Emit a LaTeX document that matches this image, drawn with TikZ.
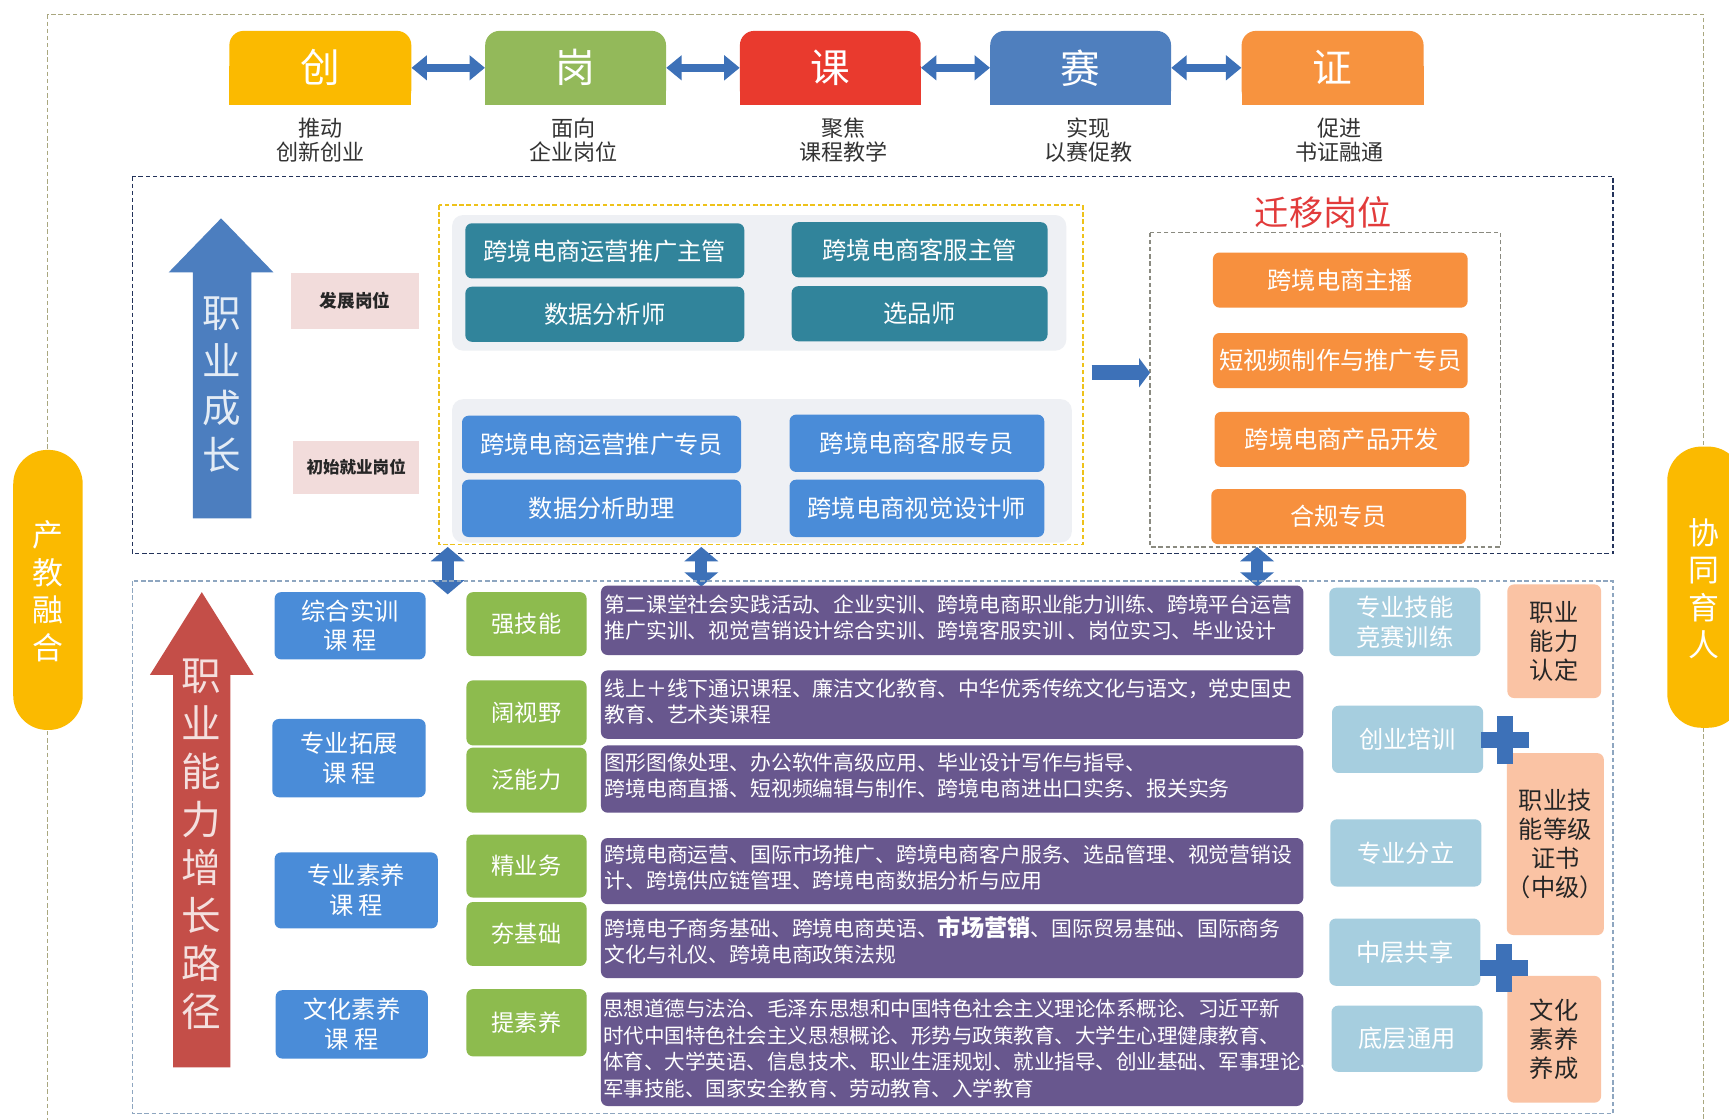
\documentclass[tikz,border=0pt]{standalone}
\usepackage{fontspec}
\setmainfont{Noto Sans CJK SC}
\usetikzlibrary{arrows.meta}
\definecolor{cyel}{HTML}{FBBA00}
\definecolor{cgrn}{HTML}{93B95A}
\definecolor{cred}{HTML}{E93A2E}
\definecolor{cblu}{HTML}{4F7FBE}
\definecolor{corg}{HTML}{F7933F}
\definecolor{cteal}{HTML}{31849B}
\definecolor{cbbox}{HTML}{4A8CD8}
\definecolor{cobox}{HTML}{F7903E}
\definecolor{cgbox}{HTML}{8DBB4E}
\definecolor{cpur}{HTML}{68578E}
\definecolor{clb}{HTML}{A6CEDF}
\definecolor{csal}{HTML}{FAC3A4}
\definecolor{cpink}{HTML}{F2DCDB}
\definecolor{carrr}{HTML}{C44E48}
\definecolor{carrb}{HTML}{4C7EBF}
\definecolor{cdarr}{HTML}{3D71B8}
\definecolor{cpanel}{HTML}{EEF0F4}
\definecolor{cframe}{HTML}{A9A77F}
\definecolor{cnavy}{HTML}{22325A}
\definecolor{clow}{HTML}{8EA6C0}
\definecolor{cydash}{HTML}{EEC21A}
\definecolor{cgdash}{HTML}{8A8A80}
\definecolor{cmig}{HTML}{E23B3B}
\newcommand\fsz[2]{\fontsize{#1pt}{#2pt}\selectfont}
\begin{document}
\begin{tikzpicture}[x=1pt,y=-1pt,
  box/.style={rounded corners=6pt, inner sep=0pt, align=center},
  toplabel/.style={inner sep=0pt, text=white, font=\fsz{36}{40}},
  caption/.style={align=center, text=black!80, font=\fsz{20}{22}},
  tealbox/.style={box, fill=cteal, text=white, font=\fsz{22}{26}, minimum height=50pt},
  bluebox/.style={box, fill=cbbox, text=white, font=\fsz{22}{26}, minimum height=52pt},
  orgbox/.style={box, fill=cobox, text=white, font=\fsz{22}{26}, minimum width=231pt, minimum height=50pt},
  pinkbox/.style={inner sep=0pt, fill=cpink, text=black!85, font=\fsz{16}{18}\bfseries},
  coursebox/.style={box, fill=cbbox, text=white, font=\fsz{22}{27}},
  grnbox/.style={box, fill=cgbox, text=white, font=\fsz{21}{25}, minimum width=109pt},
  purbox/.style={box, fill=cpur, minimum width=637pt},
  purtext/.style={inner sep=0pt, anchor=west, align=left, text=white, font=\fsz{18.9}{23.5}},
  lbbox/.style={box, fill=clb, text=white, font=\fsz{22}{27}, minimum width=137pt},
  salbox/.style={box, fill=csal, text=black!85, font=\fsz{22}{26.5}, minimum width=85pt},
  pill/.style={fill=cyel, rounded corners=31pt},
  pilltext/.style={inner sep=0pt, align=center, text=white, font=\fsz{28}{34}},
  dashline/.style={line width=1.4pt, dash pattern=on 4pt off 2.5pt},
  dblarrow/.style={cdarr, line width=7pt, {Triangle[width=22pt,length=14pt]}-{Triangle[width=22pt,length=14pt]}},
  vdblarrow/.style={cdarr, line width=11pt, {Triangle[width=30pt,length=13pt]}-{Triangle[width=30pt,length=13pt]}},
  bigtext/.style={inner sep=0pt, align=center, font=\fsz{35}{43}},
  plusbar/.style={fill=cdarr}
]
\fill[white] (0,0) rectangle (1568,1015);
\useasboundingbox (0,0) rectangle (1568,1015);
\clip (0,0) rectangle (1568,1015);

% outer frame
\draw[cframe, dashline] (43,13) rectangle (1545,1040);

% ---- top row ----
\foreach \xa/\xb/\col in {208/373/cyel, 440/604/cgrn, 671/835/cred, 898/1062/cblu, 1126/1291/corg}{
  \fill[\col, rounded corners=13pt] (\xa,28) rectangle (\xb,95);
  \fill[\col] (\xa,60) rectangle (\xb,95);
}
\node[toplabel] (chuang) at (290.5,61.5) [minimum width=165pt, minimum height=67pt] {创};
\node[toplabel] (gang) at (522,61.5) [minimum width=164pt, minimum height=67pt] {岗};
\node[toplabel] (ke) at (753,61.5) [minimum width=164pt, minimum height=67pt] {课};
\node[toplabel] (sai) at (980,61.5) [minimum width=164pt, minimum height=67pt] {赛};
\node[toplabel] (zheng) at (1208.5,61.5) [minimum width=165pt, minimum height=67pt] {证};
\draw[dblarrow] (chuang.east) -- (gang.west);
\draw[dblarrow] (gang.east) -- (ke.west);
\draw[dblarrow] (ke.east) -- (sai.west);
\draw[dblarrow] (sai.east) -- (zheng.west);
\node[caption] (cap1) at (291,127) {推动\\创新创业};
\node[caption] (cap2) at (520,127) {面向\\企业岗位};
\node[caption] (cap3) at (765,127) {聚焦\\课程教学};
\node[caption] (cap4) at (987,127) {实现\\以赛促教};
\node[caption] (cap5) at (1215,127) {促进\\书证融通};

% ---- middle section ----
\draw[cnavy, dashline] (120,160) rectangle (1463,502);
\fill[carrb] (175,470) -- (175,247) -- (153,247) -- (200.5,198) -- (248,247) -- (228,247) -- (228,470) -- cycle;
\node[bigtext, text=white!85!carrb] (zycz) at (201.5,349) {职\\业\\成\\长};
\node[pinkbox, minimum width=116pt, minimum height=50pt] (fz) at (322,273) {发展岗位};
\node[pinkbox, minimum width=114pt, minimum height=48pt, font=\fsz{15}{17}\bfseries] (cs) at (323,424) {初始就业岗位};

\draw[cydash, dashline, line width=1.2pt] (398,186) rectangle (982,494);
\fill[cpanel, rounded corners=10pt] (410,195) rectangle (967,318);
\fill[cpanel, rounded corners=10pt] (410,362) rectangle (972,492);
\node[tealbox, minimum width=253pt] (t1) at (548.5,227.5) {跨境电商运营推广主管};
\node[tealbox, minimum width=232pt] (t2) at (834,226.5) {跨境电商客服主管};
\node[tealbox, minimum width=253pt] (t3) at (548.5,285) {数据分析师};
\node[tealbox, minimum width=232pt] (t4) at (834,284.5) {选品师};
\node[bluebox, minimum width=253pt] (b1) at (545.5,403) {跨境电商运营推广专员};
\node[bluebox, minimum width=231pt] (b2) at (831.5,402) {跨境电商客服专员};
\node[bluebox, minimum width=253pt] (b3) at (545.5,461) {数据分析助理};
\node[bluebox, minimum width=231pt] (b4) at (831.5,461) {跨境电商视觉设计师};

\node[inner sep=0pt, text=cmig, font=\fsz{31}{34}] (qy) at (1200,193) {迁移岗位};
\draw[cgdash, dashline, line width=1.2pt] (1043,211) rectangle (1361,496);
\node[orgbox] (o1) at (1215.5,254) {跨境电商主播};
\node[orgbox] (o2) at (1215.5,327) {短视频制作与推广专员};
\node[orgbox] (o3) at (1217,398.5) {跨境电商产品开发};
\node[orgbox] (o4) at (1214,468.5) {合规专员};
\coordinate (ra1) at (990,338);
\coordinate (ra2) at (1043,338);
\draw[cdarr, line width=14pt, -{Triangle[width=26pt,length=10pt]}] (ra1) -- (ra2);

% vertical double arrows
\coordinate (v1a) at (406,496); \coordinate (v1b) at (406,539);
\coordinate (v2a) at (636,496); \coordinate (v2b) at (636,532);
\coordinate (v3a) at (1140,496); \coordinate (v3b) at (1140,532);
\draw[vdblarrow] (v1a) -- (v1b);
\draw[vdblarrow] (v2a) -- (v2b);
\draw[vdblarrow] (v3a) -- (v3b);

% ---- lower section ----
\draw[clow, dashline] (120,527) rectangle (1463,1010);
\fill[carrr] (157,968) -- (157,612) -- (136,612) -- (183,537) -- (230,612) -- (209,612) -- (209,968) -- cycle;
\node[bigtext, text=white!82!carrr, font=\fsz{36}{43.5}] (zynl) at (183,766) {职\\业\\能\\力\\增\\长\\路\\径};

\node[coursebox, minimum width=137pt, minimum height=61pt] (k1) at (317.5,567.5) {综合实训\\课\ 程};
\node[coursebox, minimum width=139pt, minimum height=71pt] (k2) at (316.5,687.5) {专业拓展\\课\ 程};
\node[coursebox, minimum width=148pt, minimum height=69pt] (k3) at (323,807.5) {专业素养\\课\ 程};
\node[coursebox, minimum width=138pt, minimum height=62pt] (k4) at (319,929) {文化素养\\课\ 程};

\node[grnbox, minimum height=58pt] (g1) at (477.5,566) {强技能};
\node[grnbox, minimum height=59pt] (g2) at (477.5,646.5) {阔视野};
\node[grnbox, minimum height=59pt] (g3) at (477.5,707.5) {泛能力};
\node[grnbox, minimum height=57pt] (g4) at (477.5,785.5) {精业务};
\node[grnbox, minimum height=58pt] (g5) at (477.5,847) {夯基础};
\node[grnbox, minimum height=61pt] (g6) at (477.5,927.5) {提素养};

\node[purbox, minimum height=63pt] (p1) at (863.5,562.5) {};
\node[purbox, minimum height=62pt] (p2) at (863.5,639) {};
\node[purbox, minimum height=61pt] (p3) at (863.5,706.5) {};
\node[purbox, minimum height=60pt] (p4) at (863.5,790) {};
\node[purbox, minimum height=61pt] (p5) at (863.5,856.5) {};
\node[purbox, minimum height=103pt] (p6) at (863.5,951.5) {};
\node[purtext] (pt1) at (548,560) {第二课堂社会实践活动、企业实训、跨境电商职业能力训练、跨境平台运营\\推广实训、视觉营销设计综合实训、跨境客服实训 、岗位实习、毕业设计};
\node[purtext] (pt2) at (548,636) {线上＋线下通识课程、廉洁文化教育、中华优秀传统文化与语文，党史国史\\教育、艺术类课程};
\node[purtext] (pt3) at (548,703) {图形图像处理、办公软件高级应用、毕业设计写作与指导、\\跨境电商直播、短视频编辑与制作、跨境电商进出口实务、报关实务};
\node[purtext] (pt4) at (548,787) {跨境电商运营、国际市场推广、跨境电商客户服务、选品管理、视觉营销设\\计、跨境供应链管理、跨境电商数据分析与应用};
\node[purtext] (pt5) at (548,853) {跨境电子商务基础、跨境电商英语、{\bfseries\fsz{21}{23.5}市场营销}、国际贸易基础、国际商务\\文化与礼仪、跨境电商政策法规};
\node[purtext, font=\fsz{18.6}{24}] (pt6) at (547,951) {思想道德与法治、毛泽东思想和中国特色社会主义理论体系概论、习近平新\\时代中国特色社会主义思想概论、形势与政策教育、大学生心理健康教育、\\体育、大学英语、信息技术、职业生涯规划、就业指导、创业基础、军事理论、\\军事技能、国家安全教育、劳动教育、入学教育};

\node[lbbox, minimum height=62pt] (l1) at (1274,564) {专业技能\\竞赛训练};
\node[lbbox, minimum height=61pt] (l2) at (1276.5,670.5) {创业培训};
\node[lbbox, minimum height=61pt] (l3) at (1275,773.5) {专业分立};
\node[lbbox, minimum height=61pt] (l4) at (1274,863.5) {中层共享};
\node[lbbox, minimum height=60pt] (l5) at (1276,942) {底层通用};

\node[salbox, minimum height=103pt] (s1) at (1409.5,581.5) {职业\\能力\\认定};
\node[salbox, minimum height=165pt] (s2) at (1410.5,765.5) {职业技\\能等级\\证书\\（中级）};
\node[salbox, minimum height=115pt] (s3) at (1409.5,942.5) {文化\\素养\\养成};

% plus signs
\fill[plusbar] (1343,664) rectangle (1387,678);
\fill[plusbar] (1358,649) rectangle (1372,693);
\fill[plusbar] (1342,871) rectangle (1386,885);
\fill[plusbar] (1357,856) rectangle (1371,900);

% side pills
\fill[pill] (12,408) rectangle (75,662);
\node[pilltext] (cjrh) at (43.5,536) {产\\教\\融\\合};
\fill[pill] (1512,405) rectangle (1580,660);
\node[pilltext] (xtyr) at (1545,534) {协\\同\\育\\人};
\end{tikzpicture}
\end{document}
